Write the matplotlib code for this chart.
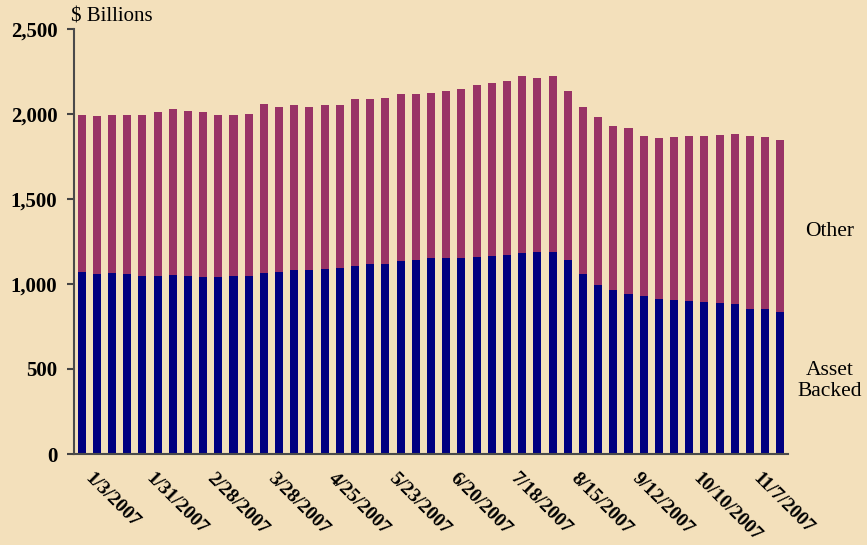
import matplotlib
matplotlib.use("Agg")
import matplotlib.pyplot as plt
import numpy as np
from matplotlib.ticker import FuncFormatter

dates = ["1/3/2007", "1/10/2007", "1/17/2007", "1/24/2007", "1/31/2007", "2/7/2007",
         "2/14/2007", "2/21/2007", "2/28/2007", "3/7/2007", "3/14/2007", "3/21/2007",
         "3/28/2007", "4/4/2007", "4/11/2007", "4/18/2007", "4/25/2007", "5/2/2007",
         "5/9/2007", "5/16/2007", "5/23/2007", "5/30/2007", "6/6/2007", "6/13/2007",
         "6/20/2007", "6/27/2007", "7/4/2007", "7/11/2007", "7/18/2007", "7/25/2007",
         "8/1/2007", "8/8/2007", "8/15/2007", "8/22/2007", "8/29/2007", "9/5/2007",
         "9/12/2007", "9/19/2007", "9/26/2007", "10/3/2007", "10/10/2007", "10/17/2007",
         "10/24/2007", "10/31/2007", "11/7/2007", "11/14/2007", "11/21/2007"]

asset_backed = [1072, 1061, 1066, 1061, 1049, 1049, 1055, 1049, 1043, 1043, 1049, 1049,
                1066, 1072, 1084, 1084, 1090, 1096, 1108, 1120, 1120, 1137, 1143, 1155,
                1155, 1155, 1161, 1166, 1172, 1184, 1190, 1190, 1143, 1061, 996, 966,
                943, 931, 914, 908, 902, 896, 890, 884, 855, 855, 837]

total = [1996, 1990, 1996, 1996, 1996, 2013, 2031, 2019, 2013, 1996, 1996, 2002,
         2060, 2043, 2054, 2043, 2054, 2054, 2090, 2090, 2096, 2119, 2119, 2125,
         2137, 2149, 2172, 2184, 2196, 2225, 2213, 2225, 2137, 2043, 1984, 1931,
         1919, 1872, 1861, 1866, 1872, 1872, 1878, 1884, 1872, 1866, 1849]

other = [t - a for t, a in zip(total, asset_backed)]

tick_every = 4
y_ticks = [0, 500, 1000, 1500, 2000, 2500]

bg = "#F3E0BB"
navy = "#000080"
maroon = "#993366"
serif = ["Liberation Serif", "DejaVu Serif"]

fig = plt.figure(figsize=(8.67, 5.45), dpi=100, facecolor=bg)
ax = fig.add_axes([74/867, 1-454/545, (788-74)/867, (454-29)/545])
ax.set_facecolor(bg)

x = np.arange(len(dates))
ax.bar(x, asset_backed, width=0.53, color=navy, zorder=2)
ax.bar(x, other, bottom=asset_backed, width=0.53, color=maroon, zorder=2)

ax.set_xlim(-0.5, len(dates) - 0.5)
ax.set_ylim(0, 2500)
ax.set_yticks(y_ticks)
ax.yaxis.set_major_formatter(FuncFormatter(lambda v, p: f"{int(v):,}"))
for lbl in ax.get_yticklabels():
    lbl.set_fontfamily(serif)
    lbl.set_fontweight("bold")
    lbl.set_fontsize(15)

tick_pos = x[::tick_every]
ax.set_xticks(tick_pos)
ax.set_xticklabels([dates[i] for i in tick_pos], rotation=-45, ha="left", va="bottom",
                   rotation_mode="anchor", fontsize=14, fontweight="bold", family=serif)
ax.tick_params(axis="x", length=0, pad=20)
ax.tick_params(axis="y", length=5, width=1.5, direction="out", color="#444444", pad=7)

for s in ["top", "right"]:
    ax.spines[s].set_visible(False)
for s in ["left", "bottom"]:
    ax.spines[s].set_color("#4a4a4a")
    ax.spines[s].set_linewidth(1.5)

fig.text(71/867, 1-17/545, "$ Billions", ha="left", va="center", fontsize=15, family=serif)
fig.text(830/867, 1-232/545, "Other", ha="center", va="center", fontsize=15.5, family=serif)
fig.text(830/867, 1-381/545, "Asset\nBacked", ha="center", va="center", fontsize=15.5,
         family=serif, linespacing=1.1)

fig.savefig("out.png", dpi=100, facecolor=bg)
